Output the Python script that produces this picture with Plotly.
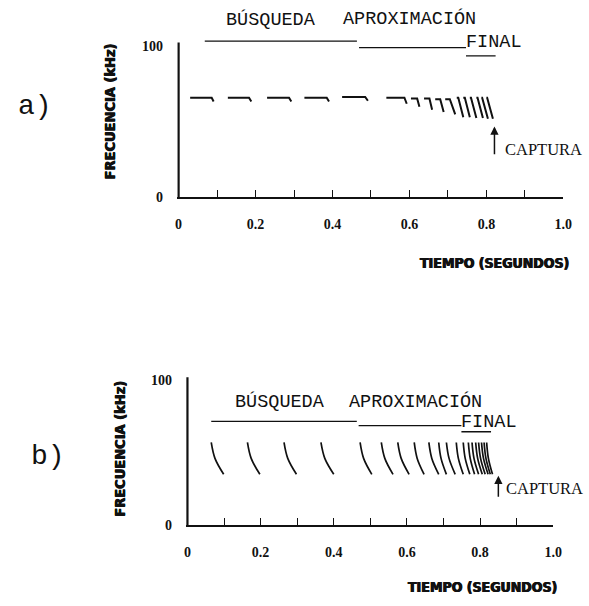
import plotly.graph_objects as go

# ---------------- data ----------------
# Panel a: CF-FM calls (time in s, frequency in kHz)
a_start = [0.030, 0.128, 0.230, 0.327, 0.425, 0.540, 0.604, 0.638, 0.667, 0.693,
           0.723, 0.740, 0.757, 0.774, 0.787, 0.800]
a_cf_end = [0.086, 0.183, 0.287, 0.385, 0.485, 0.587, 0.620, 0.652, 0.680, 0.705,
            0.727, 0.744, 0.760, 0.777, 0.789, 0.802]
a_fm_end = [0.091, 0.189, 0.293, 0.391, 0.492, 0.593, 0.626, 0.659, 0.689, 0.719,
            0.740, 0.757, 0.774, 0.791, 0.804, 0.817]
a_f_cf = [66, 66, 66, 66, 66.5, 66, 65.5, 65.5, 65, 65, 66, 66, 66, 66, 66, 66]
a_f_end = [63.5, 63.5, 63.5, 63.5, 64, 62, 60, 58, 56.5, 55, 53, 53, 52.5, 52.5, 52, 52]

# Panel b: FM calls
b_start = [0.065, 0.164, 0.264, 0.365, 0.472, 0.530, 0.575, 0.620, 0.660, 0.687,
           0.708, 0.735, 0.754, 0.768, 0.778, 0.788, 0.796, 0.804, 0.811, 0.818]
b_end = [0.099, 0.198, 0.298, 0.400, 0.504, 0.562, 0.606, 0.647, 0.687, 0.708,
         0.732, 0.754, 0.772, 0.785, 0.796, 0.806, 0.814, 0.822, 0.828, 0.834]
b_f_top = 57
b_f_bot = 35

x_tickvals = [0, 0.1, 0.2, 0.3, 0.4, 0.5, 0.6, 0.7, 0.8, 0.9, 1.0]
x_ticktext = ["0", "", "0.2", "", "0.4", "", "0.6", "", "0.8", "", "1.0"]
y_tickvals = [0, 100]
y_ticktext = ["0", "100"]

phase_names = ["BÚSQUEDA", "APROXIMACIÓN", "FINAL"]
# phase bars: (t_start, t_end, level)
a_phase_t0 = [0.068, 0.469, 0.747]
a_phase_t1 = [0.4635, 0.747, 0.824]
a_phase_f = [103.5, 99.2, 93.7]
b_phase_t0 = [0.065, 0.468, 0.749]
b_phase_t1 = [0.463, 0.749, 0.830]
b_phase_f = [71.6, 68.7, 64.4]

W, H = 589, 606
BLACK = "#111111"

fig = go.Figure()

# ---- panel a calls ----
for s, c, e, fc, fe in zip(a_start, a_cf_end, a_fm_end, a_f_cf, a_f_end):
    fig.add_trace(go.Scatter(x=[s, c, e], y=[fc, fc, fe], mode="lines",
                             line=dict(color=BLACK, width=2), xaxis="x", yaxis="y",
                             hoverinfo="skip"))
# y axis line a
fig.add_trace(go.Scatter(x=[0, 0], y=[0, 102.6], mode="lines",
                         line=dict(color=BLACK, width=2.2), xaxis="x", yaxis="y", hoverinfo="skip"))
for t0, t1, f in zip(a_phase_t0, a_phase_t1, a_phase_f):
    fig.add_trace(go.Scatter(x=[t0, t1], y=[f, f], mode="lines",
                             line=dict(color=BLACK, width=1.3), xaxis="x", yaxis="y", hoverinfo="skip"))

# ---- panel b calls ----
for s, e in zip(b_start, b_end):
    d = e - s
    fig.add_trace(go.Scatter(x=[s, s + 0.30 * d, e],
                             y=[b_f_top, (b_f_top + b_f_bot) / 2, b_f_bot],
                             mode="lines", line=dict(color=BLACK, width=1.7, shape="spline"),
                             xaxis="x2", yaxis="y2", hoverinfo="skip"))
fig.add_trace(go.Scatter(x=[0, 0], y=[0, 102], mode="lines",
                         line=dict(color=BLACK, width=2.2), xaxis="x2", yaxis="y2", hoverinfo="skip"))
for t0, t1, f in zip(b_phase_t0, b_phase_t1, b_phase_f):
    fig.add_trace(go.Scatter(x=[t0, t1], y=[f, f], mode="lines",
                             line=dict(color=BLACK, width=1.3), xaxis="x2", yaxis="y2", hoverinfo="skip"))

tickfont = dict(family="Liberation Serif, Times New Roman, serif", size=14, color=BLACK, weight="bold")

def xax(domain):
    return dict(domain=domain, range=[-0.004, 1.0], showgrid=False, zeroline=False,
                showline=True, linecolor=BLACK, linewidth=2, ticks="inside", ticklen=7,
                tickwidth=1.3, tickcolor=BLACK, tickvals=x_tickvals, ticktext=x_ticktext,
                tickfont=tickfont, ticklabelstandoff=13, fixedrange=True)

def yax(domain, rng, anchor):
    return dict(domain=domain, range=rng, showgrid=False, zeroline=False, showline=False,
                ticks="", tickvals=y_tickvals, ticktext=y_ticktext, tickfont=tickfont,
                ticklabelstandoff=13, anchor=anchor, fixedrange=True)

fig.update_layout(
    width=W, height=H, margin=dict(l=0, r=0, t=0, b=0),
    paper_bgcolor="white", plot_bgcolor="white", showlegend=False,
    xaxis=xax([178.4 / W, 572 / W]) | dict(anchor="y"),
    yaxis=yax([1 - 200 / H, 1 - 10.3 / H], [0, 124], "x"),
    xaxis2=xax([187.5 / W, 561.7 / W]) | dict(anchor="y2"),
    yaxis2=yax([1 - 532 / H, 1 - 378 / H], [0, 105], "x2"),
)

mono = dict(family="Liberation Mono, Courier New, monospace", size=18.5, color=BLACK)
serif = dict(family="Liberation Serif, Times New Roman, serif", size=16.5, color=BLACK)
heavy = dict(family="Liberation Sans Narrow, DejaVu Sans Condensed, DejaVu Sans, sans-serif",
             size=14, color=BLACK, weight="bold", shadow="0.5px 0 0 #111, -0.5px 0 0 #111")
letter = dict(family="Liberation Mono, Courier New, monospace", size=28, color=BLACK)

C = dict(xanchor="center", yanchor="middle", showarrow=False)

ann = []
# phase labels a
ann += [dict(x=0.24, y=117.6, xref="x", yref="y", text=phase_names[0], font=mono, **C),
        dict(x=0.60, y=118.3, xref="x", yref="y", text=phase_names[1], font=mono, **C),
        dict(x=0.82, y=102.6, xref="x", yref="y", text=phase_names[2], font=mono, **C)]
# phase labels b
ann += [dict(x=0.2535, y=85, xref="x2", yref="y2", text=phase_names[0], font=mono, **C),
        dict(x=0.624, y=85, xref="x2", yref="y2", text=phase_names[1], font=mono, **C),
        dict(x=0.825, y=70.5, xref="x2", yref="y2", text=phase_names[2], font=mono, **C)]
# capture arrows
ann += [dict(x=0.821, y=47, ax=0.821, ay=27.5, xref="x", yref="y", axref="x", ayref="y",
             text="", showarrow=True, arrowhead=2, arrowsize=1.1, arrowwidth=1.5, arrowcolor=BLACK),
        dict(x=511 / W, y=1 - 152 / H, xref="paper", yref="paper", text="CAPTURA",
             showarrow=False, xanchor="left", yanchor="middle", font=serif),
        dict(x=0.85, y=34, ax=0.85, ay=18.4, xref="x2", yref="y2", axref="x2", ayref="y2",
             text="", showarrow=True, arrowhead=2, arrowsize=1.1, arrowwidth=1.5, arrowcolor=BLACK),
        dict(x=512 / W, y=1 - 495 / H, xref="paper", yref="paper", text="CAPTURA",
             showarrow=False, xanchor="left", yanchor="middle", font=serif)]
# axis titles
ann += [dict(x=580 / W, y=1 - 267 / H, xref="paper", yref="paper", text="TIEMPO (SEGUNDOS)",
             showarrow=False, xanchor="right", yanchor="middle", font=heavy),
        dict(x=568 / W, y=1 - 595 / H, xref="paper", yref="paper", text="TIEMPO (SEGUNDOS)",
             showarrow=False, xanchor="right", yanchor="middle", font=heavy),
        dict(x=110 / W, y=1 - 113 / H, xref="paper", yref="paper", text="FRECUENCIA (kHz)",
             textangle=-90, font=heavy | dict(size=14.5), **C),
        dict(x=120 / W, y=1 - 455 / H, xref="paper", yref="paper", text="FRECUENCIA (kHz)",
             textangle=-90, font=heavy | dict(size=14.5), **C)]
# panel letters
ann += [dict(x=34 / W, y=1 - 108 / H, xref="paper", yref="paper", text="a)", font=letter, **C),
        dict(x=47 / W, y=1 - 463 / H, xref="paper", yref="paper", text="b)", font=letter, **C)]

fig.update_layout(annotations=ann)
fig.write_html("out.html", config={"displayModeBar": False},
               post_script="document.body.style.margin='0';")
